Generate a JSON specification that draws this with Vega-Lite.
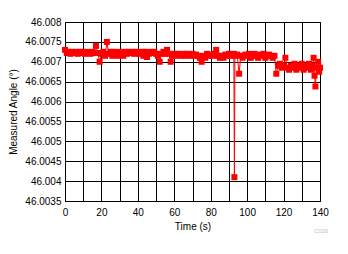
{
  "$schema": "https://vega.github.io/schema/vega-lite/v6.json",
  "autosize": "none",
  "width": 255,
  "height": 179,
  "padding": {"left": 65, "top": 22, "right": 28, "bottom": 53},
  "background": "white",
  "config": {
    "view": {"stroke": "black", "strokeWidth": 1},
    "font": "Liberation Sans",
    "axis": {
      "grid": true, "gridColor": "black", "gridWidth": 1, "gridOpacity": 1,
      "domainColor": "black", "ticks": false,
      "labelColor": "black", "labelFontSize": 10, "labelFont": "Liberation Sans",
      "titleColor": "black", "titleFontSize": 10, "titleFontWeight": "normal", "titleFont": "Liberation Sans"
    }
  },
  "title": {"text": "C026", "orient": "bottom", "anchor": "end", "fontSize": 6, "fontWeight": "normal", "color": "#c0c0c0", "offset": -3},
  "data": {"values": [
    {"t":0,"v":46.0073},{"t":1,"v":46.00722},{"t":2,"v":46.00725},{"t":3,"v":46.0072},{"t":4,"v":46.00725},
    {"t":5,"v":46.00722},{"t":6,"v":46.00725},{"t":7,"v":46.0072},{"t":8,"v":46.00725},{"t":9,"v":46.00722},
    {"t":10,"v":46.00725},{"t":11,"v":46.0072},{"t":12,"v":46.00725},{"t":13,"v":46.00722},{"t":14,"v":46.0072},
    {"t":15,"v":46.00725},{"t":16,"v":46.00722},{"t":17,"v":46.0074},{"t":18,"v":46.00722},{"t":19,"v":46.007},
    {"t":20,"v":46.0072},{"t":21,"v":46.00725},{"t":22,"v":46.00715},{"t":23,"v":46.0075},{"t":24,"v":46.0072},
    {"t":25,"v":46.00725},{"t":26,"v":46.00715},{"t":27,"v":46.00725},{"t":28,"v":46.0072},{"t":29,"v":46.00715},
    {"t":30,"v":46.00725},{"t":31,"v":46.0072},{"t":32,"v":46.00715},{"t":33,"v":46.00725},{"t":34,"v":46.0072},
    {"t":35,"v":46.00725},{"t":36,"v":46.00722},{"t":37,"v":46.00725},{"t":38,"v":46.0072},{"t":39,"v":46.00725},
    {"t":40,"v":46.00722},{"t":41,"v":46.0072},{"t":42,"v":46.00725},{"t":43,"v":46.00715},{"t":44,"v":46.00725},
    {"t":45,"v":46.00712},{"t":46,"v":46.0072},{"t":47,"v":46.00725},{"t":48,"v":46.00722},{"t":49,"v":46.00725},
    {"t":50,"v":46.0072},{"t":51,"v":46.00715},{"t":52,"v":46.007},{"t":53,"v":46.0072},{"t":54,"v":46.00725},
    {"t":55,"v":46.0072},{"t":56,"v":46.0073},{"t":57,"v":46.0072},{"t":58,"v":46.007},{"t":59,"v":46.00715},
    {"t":60,"v":46.0072},{"t":61,"v":46.00715},{"t":62,"v":46.0072},{"t":63,"v":46.00718},{"t":64,"v":46.00715},
    {"t":65,"v":46.0072},{"t":66,"v":46.00715},{"t":67,"v":46.0072},{"t":68,"v":46.00718},{"t":69,"v":46.00715},
    {"t":70,"v":46.0072},{"t":71,"v":46.00715},{"t":72,"v":46.00718},{"t":73,"v":46.00715},{"t":74,"v":46.0071},
    {"t":75,"v":46.007},{"t":76,"v":46.00715},{"t":77,"v":46.0071},{"t":78,"v":46.0072},{"t":79,"v":46.00715},
    {"t":80,"v":46.00718},{"t":81,"v":46.00715},{"t":82,"v":46.0072},{"t":83,"v":46.0073},{"t":84,"v":46.00715},
    {"t":85,"v":46.0071},{"t":86,"v":46.00715},{"t":87,"v":46.0071},{"t":88,"v":46.00718},{"t":89,"v":46.00715},
    {"t":90,"v":46.0072},{"t":91,"v":46.00715},{"t":92.7,"v":46.0072},{"t":93,"v":46.0041},{"t":93.3,"v":46.00715},
    {"t":94.5,"v":46.00718},{"t":95.6,"v":46.0067},{"t":96.5,"v":46.00715},{"t":97.5,"v":46.0071},{"t":99,"v":46.00718},
    {"t":100,"v":46.00715},{"t":101,"v":46.0072},{"t":102,"v":46.0071},{"t":103,"v":46.00715},{"t":104,"v":46.0072},
    {"t":105,"v":46.00715},{"t":106,"v":46.0071},{"t":107,"v":46.00718},{"t":108,"v":46.00715},{"t":109,"v":46.0072},
    {"t":110,"v":46.0071},{"t":111,"v":46.00715},{"t":112,"v":46.00718},{"t":113,"v":46.00715},{"t":114,"v":46.0071},
    {"t":115,"v":46.00715},{"t":116,"v":46.0067},{"t":117,"v":46.0069},{"t":118,"v":46.00695},{"t":119,"v":46.00685},
    {"t":120,"v":46.0069},{"t":121,"v":46.0071},{"t":122,"v":46.00685},{"t":123,"v":46.0068},{"t":124,"v":46.0069},
    {"t":125,"v":46.00685},{"t":126,"v":46.00695},{"t":127,"v":46.0068},{"t":128,"v":46.0069},{"t":129,"v":46.00685},
    {"t":130,"v":46.00695},{"t":131,"v":46.0068},{"t":132,"v":46.0069},{"t":133,"v":46.00685},{"t":134,"v":46.00695},
    {"t":135,"v":46.0068},{"t":136,"v":46.0069},{"t":136.5,"v":46.0071},{"t":137,"v":46.00665},{"t":137.5,"v":46.00638},
    {"t":138,"v":46.00685},{"t":139,"v":46.007},{"t":139.5,"v":46.00675},{"t":140,"v":46.00685}
  ]},
  "encoding": {
    "x": {"field": "t", "type": "quantitative",
      "scale": {"domain": [0, 140], "nice": false, "zero": false},
      "axis": {"title": "Time (s)", "values": [0,10,20,30,40,50,60,70,80,90,100,110,120,130,140],
        "labelExpr": "datum.value % 20 === 0 ? datum.label : ''", "labelPadding": 6, "titlePadding": 4, "labelFlush": false}},
    "y": {"field": "v", "type": "quantitative",
      "scale": {"domain": [46.0035, 46.008], "nice": false, "zero": false},
      "axis": {"title": "Measured Angle (°)", "values": [46.0035,46.004,46.0045,46.005,46.0055,46.006,46.0065,46.007,46.0075,46.008],
        "format": ".4~f", "labelPadding": 4, "titlePadding": 6, "labelFlush": false}}
  },
  "layer": [
    {"mark": {"type": "line", "color": "#ff0000", "strokeWidth": 1, "clip": false}},
    {"mark": {"type": "point", "shape": "square", "filled": true, "size": 36, "color": "#ff0000", "opacity": 1, "clip": false}}
  ]
}
